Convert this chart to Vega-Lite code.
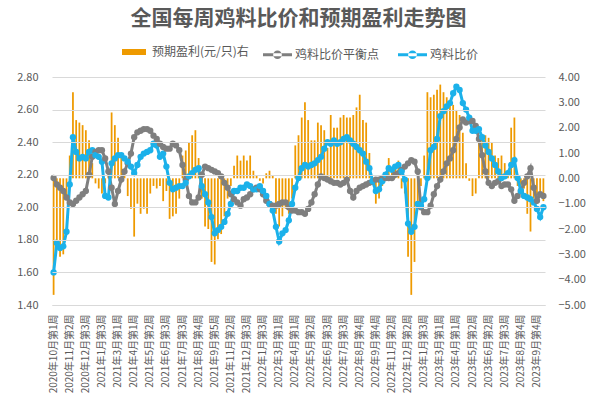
{
"$schema": "https://vega.github.io/schema/vega-lite/v6.json",
"autosize": "none",
"width": 493,
"height": 228,
"padding": {"left": 52, "top": 77, "right": 52, "bottom": 107},
"background": "white",
"config": {"font": "Noto Sans CJK SC", "view": {"stroke": null}, "axis": {"gridColor": "#D9D9D9", "domainColor": "#D9D9D9"}},
"title": {"text": "全国每周鸡料比价和预期盈利走势图", "fontSize": 21, "fontWeight": "bold", "color": "#595959", "anchor": "middle", "offset": 11},
"data": {"values": [
{"week":"2020年10月第1周","profit":-4.6,"鸡料比价平衡点":2.18,"鸡料比价":1.60},
{"week":"2020年10月第2周","profit":-2.8,"鸡料比价平衡点":2.14,"鸡料比价":1.78},
{"week":"2020年10月第3周","profit":-3.1,"鸡料比价平衡点":2.12,"鸡料比价":1.75},
{"week":"2020年10月第4周","profit":-3.0,"鸡料比价平衡点":2.10,"鸡料比价":1.76},
{"week":"2020年11月第1周","profit":-0.8,"鸡料比价平衡点":2.06,"鸡料比价":1.85},
{"week":"2020年11月第2周","profit":0.9,"鸡料比价平衡点":2.03,"鸡料比价":2.14},
{"week":"2020年11月第3周","profit":3.4,"鸡料比价平衡点":2.02,"鸡料比价":2.43},
{"week":"2020年11月第4周","profit":2.3,"鸡料比价平衡点":2.04,"鸡料比价":2.34},
{"week":"2020年12月第1周","profit":2.2,"鸡料比价平衡点":2.06,"鸡料比价":2.30},
{"week":"2020年12月第2周","profit":2.1,"鸡料比价平衡点":2.08,"鸡料比价":2.31},
{"week":"2020年12月第3周","profit":1.9,"鸡料比价平衡点":2.10,"鸡料比价":2.30},
{"week":"2020年12月第4周","profit":1.5,"鸡料比价平衡点":2.20,"鸡料比价":2.34},
{"week":"2020年12月第5周","profit":0.6,"鸡料比价平衡点":2.31,"鸡料比价":2.35},
{"week":"2021年1月第1周","profit":-0.2,"鸡料比价平衡点":2.34,"鸡料比价":2.32},
{"week":"2021年1月第2周","profit":-0.4,"鸡料比价平衡点":2.35,"鸡料比价":2.31},
{"week":"2021年1月第3周","profit":-0.6,"鸡料比价平衡点":2.35,"鸡料比价":2.28},
{"week":"2021年1月第4周","profit":-0.2,"鸡料比价平衡点":2.30,"鸡料比价":2.07},
{"week":"2021年2月第1周","profit":0.3,"鸡料比价平衡点":2.22,"鸡料比价":2.06},
{"week":"2021年2月第3周","profit":2.6,"鸡料比价平衡点":2.12,"鸡料比价":2.27},
{"week":"2021年2月第4周","profit":2.1,"鸡料比价平衡点":2.02,"鸡料比价":2.30},
{"week":"2021年3月第1周","profit":1.6,"鸡料比价平衡点":2.10,"鸡料比价":2.32},
{"week":"2021年3月第2周","profit":1.0,"鸡料比价平衡点":2.17,"鸡料比价":2.32},
{"week":"2021年3月第3周","profit":0.2,"鸡料比价平衡点":2.22,"鸡料比价":2.30},
{"week":"2021年3月第4周","profit":-0.7,"鸡料比价平衡点":2.27,"鸡料比价":2.28},
{"week":"2021年3月第5周","profit":-1.2,"鸡料比价平衡点":2.33,"鸡料比价":2.25},
{"week":"2021年4月第1周","profit":-2.3,"鸡料比价平衡点":2.43,"鸡料比价":2.21},
{"week":"2021年4月第2周","profit":-1.0,"鸡料比价平衡点":2.46,"鸡料比价":2.26},
{"week":"2021年4月第3周","profit":-1.4,"鸡料比价平衡点":2.47,"鸡料比价":2.31},
{"week":"2021年4月第4周","profit":-1.2,"鸡料比价平衡点":2.48,"鸡料比价":2.33},
{"week":"2021年5月第1周","profit":-1.4,"鸡料比价平衡点":2.48,"鸡料比价":2.34},
{"week":"2021年5月第2周","profit":-0.6,"鸡料比价平衡点":2.47,"鸡料比价":2.35},
{"week":"2021年5月第3周","profit":-0.3,"鸡料比价平衡点":2.44,"鸡料比价":2.39},
{"week":"2021年5月第4周","profit":-0.4,"鸡料比价平衡点":2.42,"鸡料比价":2.38},
{"week":"2021年6月第1周","profit":-0.3,"鸡料比价平衡点":2.39,"鸡料比价":2.31},
{"week":"2021年6月第2周","profit":-0.9,"鸡料比价平衡点":2.37,"鸡料比价":2.33},
{"week":"2021年6月第3周","profit":-0.5,"鸡料比价平衡点":2.36,"鸡料比价":2.25},
{"week":"2021年6月第4周","profit":-1.6,"鸡料比价平衡点":2.36,"鸡料比价":2.15},
{"week":"2021年6月第5周","profit":-1.5,"鸡料比价平衡点":2.39,"鸡料比价":2.11},
{"week":"2021年7月第1周","profit":-1.4,"鸡料比价平衡点":2.38,"鸡料比价":2.12},
{"week":"2021年7月第2周","profit":-0.8,"鸡料比价平衡点":2.35,"鸡料比价":2.13},
{"week":"2021年7月第3周","profit":0.9,"鸡料比价平衡点":2.26,"鸡料比价":2.13},
{"week":"2021年7月第4周","profit":1.1,"鸡料比价平衡点":2.17,"鸡料比价":2.15},
{"week":"2021年8月第1周","profit":1.4,"鸡料比价平衡点":2.07,"鸡料比价":2.19},
{"week":"2021年8月第2周","profit":1.7,"鸡料比价平衡点":2.03,"鸡料比价":2.21},
{"week":"2021年8月第3周","profit":1.9,"鸡料比价平衡点":2.03,"鸡料比价":2.23},
{"week":"2021年8月第4周","profit":0.8,"鸡料比价平衡点":2.06,"鸡料比价":2.24},
{"week":"2021年9月第1周","profit":-0.8,"鸡料比价平衡点":2.20,"鸡料比价":2.13},
{"week":"2021年9月第2周","profit":-1.9,"鸡料比价平衡点":2.25,"鸡料比价":2.08},
{"week":"2021年9月第3周","profit":-2.0,"鸡料比价平衡点":2.24,"鸡料比价":2.03},
{"week":"2021年9月第4周","profit":-3.3,"鸡料比价平衡点":2.23,"鸡料比价":1.94},
{"week":"2021年9月第5周","profit":-3.4,"鸡料比价平衡点":2.22,"鸡料比价":1.84},
{"week":"2021年10月第2周","profit":-2.4,"鸡料比价平衡点":2.21,"鸡料比价":1.86},
{"week":"2021年10月第3周","profit":-2.2,"鸡料比价平衡点":2.19,"鸡料比价":1.88},
{"week":"2021年10月第4周","profit":-1.5,"鸡料比价平衡点":2.15,"鸡料比价":1.91},
{"week":"2021年11月第1周","profit":-0.8,"鸡料比价平衡点":2.12,"鸡料比价":1.96},
{"week":"2021年11月第2周","profit":-0.3,"鸡料比价平衡点":2.08,"鸡料比价":2.02},
{"week":"2021年11月第3周","profit":0.5,"鸡料比价平衡点":2.05,"鸡料比价":2.10},
{"week":"2021年11月第4周","profit":0.9,"鸡料比价平衡点":2.03,"鸡料比价":2.10},
{"week":"2021年12月第1周","profit":0.7,"鸡料比价平衡点":2.01,"鸡料比价":2.12},
{"week":"2021年12月第2周","profit":0.9,"鸡料比价平衡点":2.05,"鸡料比价":2.12},
{"week":"2021年12月第3周","profit":0.7,"鸡料比价平衡点":2.06,"鸡料比价":2.14},
{"week":"2021年12月第4周","profit":0.9,"鸡料比价平衡点":2.08,"鸡料比价":2.13},
{"week":"2021年12月第5周","profit":0.3,"鸡料比价平衡点":2.11,"鸡料比价":2.11},
{"week":"2022年1月第1周","profit":0.1,"鸡料比价平衡点":2.12,"鸡料比价":2.11},
{"week":"2022年1月第2周","profit":-0.1,"鸡料比价平衡点":2.11,"鸡料比价":2.13},
{"week":"2022年1月第3周","profit":-0.2,"鸡料比价平衡点":2.08,"鸡料比价":2.10},
{"week":"2022年1月第4周","profit":0.2,"鸡料比价平衡点":2.04,"鸡料比价":2.07},
{"week":"2022年2月第2周","profit":0.3,"鸡料比价平衡点":2.02,"鸡料比价":2.02},
{"week":"2022年2月第3周","profit":0.1,"鸡料比价平衡点":2.01,"鸡料比价":1.98},
{"week":"2022年2月第4周","profit":-1.4,"鸡料比价平衡点":2.01,"鸡料比价":1.88},
{"week":"2022年3月第1周","profit":-1.9,"鸡料比价平衡点":2.02,"鸡料比价":1.79},
{"week":"2022年3月第2周","profit":-1.5,"鸡料比价平衡点":2.03,"鸡料比价":1.84},
{"week":"2022年3月第3周","profit":-1.2,"鸡料比价平衡点":2.03,"鸡料比价":1.86},
{"week":"2022年3月第4周","profit":-1.4,"鸡料比价平衡点":2.00,"鸡料比价":1.92},
{"week":"2022年3月第5周","profit":-0.8,"鸡料比价平衡点":1.98,"鸡料比价":2.02},
{"week":"2022年4月第1周","profit":1.3,"鸡料比价平衡点":1.98,"鸡料比价":2.12},
{"week":"2022年4月第2周","profit":1.7,"鸡料比价平衡点":1.97,"鸡料比价":2.18},
{"week":"2022年4月第3周","profit":2.4,"鸡料比价平衡点":1.97,"鸡料比价":2.24},
{"week":"2022年4月第4周","profit":3.0,"鸡料比价平衡点":1.96,"鸡料比价":2.26},
{"week":"2022年5月第1周","profit":2.3,"鸡料比价平衡点":1.99,"鸡料比价":2.25},
{"week":"2022年5月第2周","profit":1.5,"鸡料比价平衡点":2.03,"鸡料比价":2.26},
{"week":"2022年5月第3周","profit":1.5,"鸡料比价平衡点":2.08,"鸡料比价":2.27},
{"week":"2022年5月第4周","profit":2.2,"鸡料比价平衡点":2.14,"鸡料比价":2.29},
{"week":"2022年6月第1周","profit":2.1,"鸡料比价平衡点":2.19,"鸡料比价":2.31},
{"week":"2022年6月第2周","profit":1.9,"鸡料比价平衡点":2.18,"鸡料比价":2.36},
{"week":"2022年6月第3周","profit":1.2,"鸡料比价平衡点":2.17,"鸡料比价":2.40},
{"week":"2022年6月第4周","profit":2.5,"鸡料比价平衡点":2.16,"鸡料比价":2.39},
{"week":"2022年6月第5周","profit":2.0,"鸡料比价平衡点":2.15,"鸡料比价":2.41},
{"week":"2022年7月第1周","profit":2.0,"鸡料比价平衡点":2.15,"鸡料比价":2.39},
{"week":"2022年7月第2周","profit":2.4,"鸡料比价平衡点":2.14,"鸡料比价":2.40},
{"week":"2022年7月第3周","profit":2.5,"鸡料比价平衡点":2.15,"鸡料比价":2.42},
{"week":"2022年7月第4周","profit":2.4,"鸡料比价平衡点":2.17,"鸡料比价":2.43},
{"week":"2022年8月第1周","profit":2.4,"鸡料比价平衡点":2.10,"鸡料比价":2.41},
{"week":"2022年8月第2周","profit":2.5,"鸡料比价平衡点":2.06,"鸡料比价":2.39},
{"week":"2022年8月第3周","profit":2.8,"鸡料比价平衡点":2.10,"鸡料比价":2.37},
{"week":"2022年8月第4周","profit":3.3,"鸡料比价平衡点":2.12,"鸡料比价":2.35},
{"week":"2022年8月第5周","profit":2.3,"鸡料比价平衡点":2.13,"鸡料比价":2.33},
{"week":"2022年9月第1周","profit":2.2,"鸡料比价平衡点":2.14,"鸡料比价":2.28},
{"week":"2022年9月第2周","profit":1.0,"鸡料比价平衡点":2.15,"鸡料比价":2.24},
{"week":"2022年9月第3周","profit":-0.2,"鸡料比价平衡点":2.16,"鸡料比价":2.16},
{"week":"2022年9月第4周","profit":-1.0,"鸡料比价平衡点":2.17,"鸡料比价":2.10},
{"week":"2022年10月第2周","profit":-0.8,"鸡料比价平衡点":2.17,"鸡料比价":2.11},
{"week":"2022年10月第3周","profit":-0.3,"鸡料比价平衡点":2.18,"鸡料比价":2.16},
{"week":"2022年10月第4周","profit":0.2,"鸡料比价平衡点":2.18,"鸡料比价":2.20},
{"week":"2022年11月第1周","profit":0.8,"鸡料比价平衡点":2.18,"鸡料比价":2.24},
{"week":"2022年11月第2周","profit":0.3,"鸡料比价平衡点":2.18,"鸡料比价":2.23},
{"week":"2022年11月第3周","profit":0.4,"鸡料比价平衡点":2.20,"鸡料比价":2.25},
{"week":"2022年11月第4周","profit":0.7,"鸡料比价平衡点":2.21,"鸡料比价":2.26},
{"week":"2022年11月第5周","profit":-0.4,"鸡料比价平衡点":2.23,"鸡料比价":2.22},
{"week":"2022年12月第1周","profit":-0.6,"鸡料比价平衡点":2.25,"鸡料比价":2.17},
{"week":"2022年12月第2周","profit":-3.1,"鸡料比价平衡点":2.27,"鸡料比价":1.90},
{"week":"2022年12月第3周","profit":-4.6,"鸡料比价平衡点":2.29,"鸡料比价":1.85},
{"week":"2022年12月第4周","profit":-3.3,"鸡料比价平衡点":2.28,"鸡料比价":1.88},
{"week":"2023年1月第1周","profit":-1.0,"鸡料比价平衡点":2.22,"鸡料比价":2.02},
{"week":"2023年1月第2周","profit":-0.3,"鸡料比价平衡点":2.00,"鸡料比价":2.01},
{"week":"2023年1月第3周","profit":0.9,"鸡料比价平衡点":1.97,"鸡料比价":2.05},
{"week":"2023年2月第1周","profit":3.4,"鸡料比价平衡点":1.97,"鸡料比价":2.18},
{"week":"2023年2月第2周","profit":3.2,"鸡料比价平衡点":2.01,"鸡料比价":2.35},
{"week":"2023年2月第3周","profit":3.3,"鸡料比价平衡点":2.08,"鸡料比价":2.37},
{"week":"2023年2月第4周","profit":3.5,"鸡料比价平衡点":2.13,"鸡料比价":2.42},
{"week":"2023年3月第1周","profit":3.7,"鸡料比价平衡点":2.17,"鸡料比价":2.56},
{"week":"2023年3月第2周","profit":3.4,"鸡料比价平衡点":2.22,"鸡料比价":2.59},
{"week":"2023年3月第3周","profit":3.2,"鸡料比价平衡点":2.27,"鸡料比价":2.62},
{"week":"2023年3月第4周","profit":3.0,"鸡料比价平衡点":2.30,"鸡料比价":2.64},
{"week":"2023年3月第5周","profit":2.9,"鸡料比价平衡点":2.35,"鸡料比价":2.70},
{"week":"2023年4月第1周","profit":2.7,"鸡料比价平衡点":2.42,"鸡料比价":2.74},
{"week":"2023年4月第2周","profit":2.5,"鸡料比价平衡点":2.49,"鸡料比价":2.72},
{"week":"2023年4月第3周","profit":1.8,"鸡料比价平衡点":2.54,"鸡料比价":2.64},
{"week":"2023年4月第4周","profit":0.6,"鸡料比价平衡点":2.52,"鸡料比价":2.60},
{"week":"2023年5月第1周","profit":-0.1,"鸡料比价平衡点":2.53,"鸡料比价":2.55},
{"week":"2023年5月第2周","profit":-0.7,"鸡料比价平衡点":2.53,"鸡料比价":2.47},
{"week":"2023年5月第3周","profit":-0.6,"鸡料比价平衡点":2.50,"鸡料比价":2.47},
{"week":"2023年5月第4周","profit":1.7,"鸡料比价平衡点":2.42,"鸡料比价":2.48},
{"week":"2023年5月第5周","profit":1.6,"鸡料比价平衡点":2.32,"鸡料比价":2.43},
{"week":"2023年6月第1周","profit":1.7,"鸡料比价平衡点":2.22,"鸡料比价":2.38},
{"week":"2023年6月第2周","profit":1.6,"鸡料比价平衡点":2.15,"鸡料比价":2.34},
{"week":"2023年6月第3周","profit":1.4,"鸡料比价平衡点":2.13,"鸡料比价":2.30},
{"week":"2023年6月第4周","profit":0.9,"鸡料比价平衡点":2.15,"鸡料比价":2.26},
{"week":"2023年7月第1周","profit":0.8,"鸡料比价平衡点":2.16,"鸡料比价":2.22},
{"week":"2023年7月第2周","profit":0.9,"鸡料比价平衡点":2.13,"鸡料比价":2.18},
{"week":"2023年7月第3周","profit":0.6,"鸡料比价平衡点":2.14,"鸡料比价":2.19},
{"week":"2023年7月第4周","profit":0.3,"鸡料比价平衡点":2.14,"鸡料比价":2.21},
{"week":"2023年8月第1周","profit":2.0,"鸡料比价平衡点":2.11,"鸡料比价":2.26},
{"week":"2023年8月第2周","profit":2.4,"鸡料比价平衡点":2.04,"鸡料比价":2.29},
{"week":"2023年8月第3周","profit":-0.3,"鸡料比价平衡点":2.07,"鸡料比价":2.18},
{"week":"2023年8月第4周","profit":-0.5,"鸡料比价平衡点":2.10,"鸡料比价":2.10},
{"week":"2023年8月第5周","profit":-0.4,"鸡料比价平衡点":2.15,"鸡料比价":2.07},
{"week":"2023年9月第1周","profit":-1.4,"鸡料比价平衡点":2.19,"鸡料比价":2.06},
{"week":"2023年9月第2周","profit":-2.1,"鸡料比价平衡点":2.24,"鸡料比价":2.05},
{"week":"2023年9月第3周","profit":-0.8,"鸡料比价平衡点":2.12,"鸡料比价":2.03},
{"week":"2023年9月第4周","profit":-1.0,"鸡料比价平衡点":2.04,"鸡料比价":1.99},
{"week":"2023年10月第1周","profit":-0.6,"鸡料比价平衡点":2.08,"鸡料比价":1.94},
{"week":"2023年10月第2周","profit":-0.9,"鸡料比价平衡点":2.07,"鸡料比价":2.00}
]},
"encoding": {
  "x": {"field": "week", "type": "ordinal", "sort": null,
        "scale": {"paddingInner": 0, "paddingOuter": 0},
        "axis": {"title": null, "labelAngle": -90, "labelFontSize": 10, "labelColor": "#595959", "zindex": 1,
                 "ticks": false, "grid": false, "domain": true, "domainWidth": 1, "labelPadding": 9, "labelOverlap": false,
                 "values": ["2020年10月第1周","2020年11月第2周","2020年12月第3周","2021年1月第3周","2021年3月第1周","2021年4月第1周","2021年5月第2周","2021年6月第3周","2021年7月第3周","2021年8月第4周","2021年9月第5周","2021年11月第2周","2021年12月第3周","2022年1月第3周","2022年3月第1周","2022年4月第1周","2022年5月第2周","2022年6月第3周","2022年7月第3周","2022年8月第4周","2022年9月第4周","2022年11月第2周","2022年12月第2周","2023年1月第3周","2023年3月第1周","2023年4月第1周","2023年5月第2周","2023年6月第2周","2023年7月第3周","2023年8月第4周","2023年9月第4周"]}}
},
"layer": [
  {"transform": [{"fold": ["鸡料比价平衡点", "鸡料比价"], "as": ["series", "value"]}],
   "mark": {"type": "line", "opacity": 0},
   "encoding": {
     "y": {"field": "value", "type": "quantitative", "scale": {"domain": [1.4, 2.8], "nice": false, "zero": false},
           "axis": {"orient": "left", "title": null, "values": [1.4,1.6,1.8,2.0,2.2,2.4,2.6,2.8], "format": ".2f", "labelOverlap": false,
                    "domain": false, "ticks": false, "grid": true, "gridWidth": 1, "zindex": 1,
                    "labelColor": "#595959", "labelFontSize": 11, "labelPadding": 14}}
   }},
  {"mark": {"type": "bar", "width": {"band": 0.55}},
   "encoding": {
     "y": {"field": "profit", "type": "quantitative", "scale": {"domain": [-5, 4], "nice": false},
           "axis": {"orient": "right", "title": null, "values": [-5,-4,-3,-2,-1,0,1,2,3,4], "format": ".2f",
                    "domain": false, "ticks": false, "grid": false, "labelColor": "#595959", "labelFontSize": 11, "labelPadding": 13}},
     "fill": {"datum": "预期盈利(元/只)右", "type": "nominal",
              "scale": {"domain": ["预期盈利(元/只)右"], "range": ["#EE9A00"]},
              "legend": {"title": null, "orient": "none", "legendX": 70, "legendY": -37, "symbolType": "M-1,-0.25H1V0.25H-1Z", "symbolSize": 576,
                         "symbolStrokeWidth": 0, "labelFontSize": 12, "labelColor": "#595959", "labelOffset": 6, "padding": 0}}
   }},
  {"transform": [{"fold": ["鸡料比价平衡点", "鸡料比价"], "as": ["series", "value"]}],
   "mark": {"type": "line", "strokeWidth": 3, "point": {"filled": true, "size": 40}},
   "encoding": {
     "y": {"field": "value", "type": "quantitative", "scale": {"domain": [1.4, 2.8], "nice": false, "zero": false}, "axis": null},
     "color": {"field": "series", "type": "nominal", "sort": ["鸡料比价平衡点", "鸡料比价"],
               "scale": {"domain": ["鸡料比价平衡点", "鸡料比价"], "range": ["#7F7F7F", "#1BB1EA"]},
               "legend": {"title": null, "orient": "none", "legendX": 211, "legendY": -37, "direction": "horizontal", "padding": 0,
                          "symbolType": "M-1,-0.1H1V0.1H-1Z M-0.3,0A0.3,0.3 0 1,0 0.3,0A0.3,0.3 0 1,0 -0.3,0Z",
                          "symbolSize": 841, "symbolStrokeWidth": 0, "labelFontSize": 12, "labelColor": "#595959",
                          "columnPadding": 18, "labelOffset": 3,
                          "encode": {"symbols": {"update": {"fill": {"scale": "color", "field": "value"}, "stroke": {"value": "transparent"}}}}}}
   }}
],
"resolve": {"scale": {"y": "independent"}}
}
